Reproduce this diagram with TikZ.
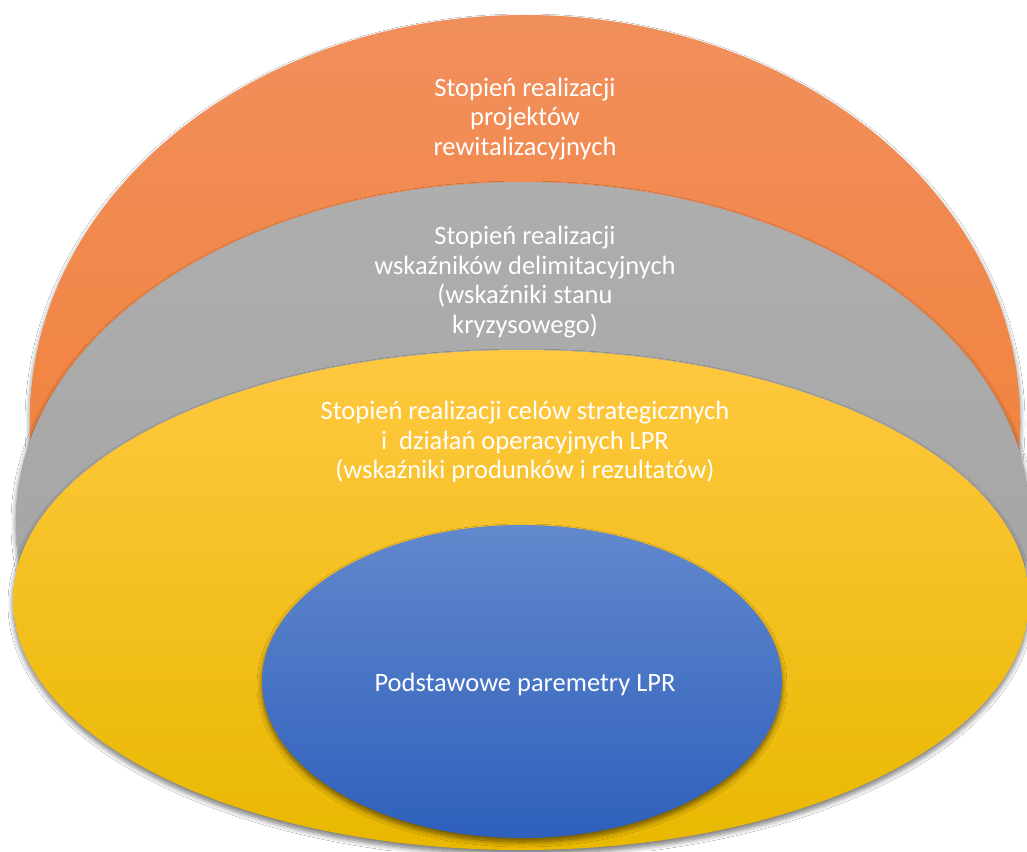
\documentclass[tikz,border=0pt]{standalone}
\usepackage{fontspec}
\setmainfont{Carlito}
\usetikzlibrary{shapes.geometric,shadows.blur}
\begin{document}
\begin{tikzpicture}[x=1pt,y=-1pt,
  layer/.style={ellipse, inner sep=0pt, draw=none,
    blur shadow={shadow xshift=0pt, shadow yshift=-4pt, shadow blur steps=8, shadow blur radius=5pt, shadow opacity=55}},
  lbl/.style={text=white, align=center, font=\fontsize{26.5}{29.6}\selectfont}]
\useasboundingbox (0,0) rectangle (1027,851);
\clip (0,0) rectangle (1027,851);
\fill[white] (0,0) rectangle (1027,851);
\begin{scope}
  \clip (-10,-10) rectangle (1040,470);
  \node[layer, minimum width=990pt, minimum height=810pt,
    top color={rgb,255:red,241;green,143;blue,92}, bottom color={rgb,255:red,240;green,122;blue,40}] (orange) at (525,420) {};
\end{scope}
\begin{scope}
  \clip (-10,-10) rectangle (1040,585);
  \node[layer, minimum width=1014pt, minimum height=676pt,
    top color={rgb,255:red,174;green,174;blue,174}, bottom color={rgb,255:red,160;green,160;blue,160}] (gray) at (523,520) {};
\end{scope}
\node[layer, minimum width=1016pt, minimum height=500pt,
  top color={rgb,255:red,255;green,200;blue,64}, middle color={rgb,255:red,255;green,193;blue,0}, bottom color={rgb,255:red,233;green,184;blue,0}] (yellow) at (521,600) {};
\node[layer, minimum width=520pt, minimum height=313pt,
  top color={rgb,255:red,98;green,136;blue,205}, bottom color={rgb,255:red,46;green,96;blue,188}] (blue) at (522,681.5) {};
\node[lbl] (tOrange) at (525,119) {Stopień realizacji\\projektów\\rewitalizacyjnych};
\node[lbl] (tGray) at (525,282) {Stopień realizacji\\wskaźników delimitacyjnych\\(wskaźniki stanu\\kryzysowego)};
\node[lbl] (tYellow) at (525,442) {Stopień realizacji celów strategicznych\\i\ \ działań operacyjnych LPR\\(wskaźniki produnków i rezultatów)};
\node[lbl] (tBlue) at (525,684) {Podstawowe paremetry LPR};
\end{tikzpicture}
\end{document}
